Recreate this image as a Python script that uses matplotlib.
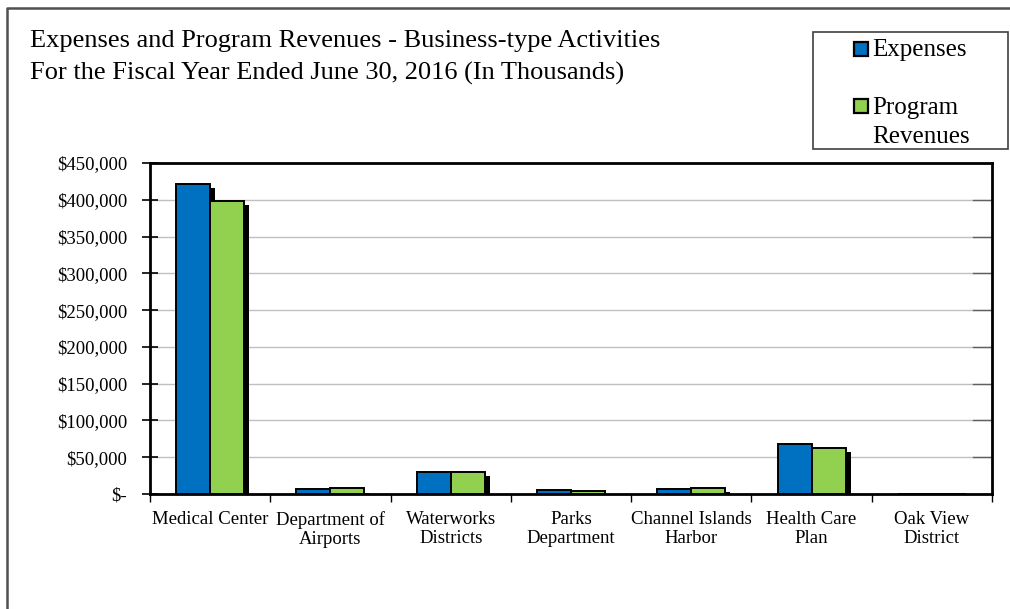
import matplotlib
matplotlib.use("Agg")
import matplotlib.pyplot as plt
import matplotlib.patheffects as pe
from matplotlib.patches import Rectangle
from matplotlib.lines import Line2D
import numpy as np

categories = ["Medical Center", "Department of\nAirports", "Waterworks\nDistricts",
              "Parks\nDepartment", "Channel Islands\nHarbor", "Health Care\nPlan",
              "Oak View\nDistrict"]
expenses = [421000, 6400, 30300, 5000, 6800, 68000, 300]
revenues = [398000, 7700, 29500, 3600, 8600, 62100, 200]
yticks = [0, 50000, 100000, 150000, 200000, 250000, 300000, 350000, 400000, 450000]
ytick_labels = ["$-" if v == 0 else f"${v:,.0f}" for v in yticks]
title_lines = ["Expenses and Program Revenues - Business-type Activities",
               "For the Fiscal Year Ended June 30, 2016 (In Thousands)"]

W, H = 1010, 609
fig = plt.figure(figsize=(W / 100, H / 100), dpi=100)
plt.rcParams['font.family'] = ['Liberation Serif', 'DejaVu Serif']

def fx(px):
    return px / W

def fy(py):
    return 1 - py / H

ax = fig.add_axes([fx(150), fy(494), fx(992) - fx(150), fy(163) - fy(494)])

blue = "#0070C0"
green = "#92D050"
x = np.arange(len(categories))
bw = 0.283
shadow = [pe.SimplePatchShadow(offset=(3.6, -3.0), shadow_rgbFace='black', alpha=1.0), pe.Normal()]
b1 = ax.bar(x - bw / 2, expenses, bw, color=blue, edgecolor='black', linewidth=1.4, zorder=3)
b2 = ax.bar(x + bw / 2, revenues, bw, color=green, edgecolor='black', linewidth=1.4, zorder=4)
for b in list(b1) + list(b2):
    b.set_path_effects(shadow)

ax.set_xlim(-0.5, len(categories) - 0.5)
ax.set_ylim(0, 450000)
ax.set_yticks(yticks)
ax.set_yticklabels(ytick_labels, fontsize=13.5)
ax.yaxis.grid(True, color='#c0c0c0', linewidth=1.0, zorder=0)
ax.set_axisbelow(True)
ax.tick_params(axis='y', direction='inout', length=11, width=1.2, pad=11)

ax.set_xticks(x)
ax.set_xticklabels(categories, fontsize=13.5)
ax.tick_params(axis='x', length=0, pad=12)
ax.set_xticks(np.arange(len(categories) + 1) - 0.5, minor=True)
ax.tick_params(axis='x', which='minor', direction='out', length=6, width=1.0)

for s in ['left', 'top', 'right', 'bottom']:
    ax.spines[s].set_linewidth(2.0)
    ax.spines[s].set_color('black')

# right-side dark ends of gridlines
for v in yticks[1:-1]:
    ax.plot([len(categories) - 0.5 - 0.16, len(categories) - 0.5], [v, v],
            color='#606060', linewidth=1.0, zorder=1, clip_on=False)

# Title
fig.text(fx(30), fy(47.5), title_lines[0], fontsize=19, va='baseline', ha='left')
fig.text(fx(30), fy(79.5), title_lines[1], fontsize=19, va='baseline', ha='left')

# Outer frame
fig.add_artist(Line2D([fx(7), fx(7), fx(1012)], [fy(612), fy(8), fy(8)],
                      color='#505050', linewidth=1.8))

# Legend box
fig.add_artist(Rectangle((fx(813), fy(149)), fx(1008) - fx(813), fy(32) - fy(149),
                         facecolor='white', edgecolor='#404040', linewidth=1.2))
fig.add_artist(Rectangle((fx(854), fy(56)), fx(14), fy(0) - fy(14),
                         facecolor=blue, edgecolor='black', linewidth=1.6))
fig.add_artist(Rectangle((fx(854), fy(113)), fx(14), fy(0) - fy(14),
                         facecolor=green, edgecolor='black', linewidth=1.6))
fig.text(fx(872), fy(56), "Expenses", fontsize=18, va='baseline', ha='left')
fig.text(fx(872), fy(114), "Program", fontsize=18, va='baseline', ha='left')
fig.text(fx(872), fy(143), "Revenues", fontsize=18, va='baseline', ha='left')

fig.savefig("out.png", dpi=100)
